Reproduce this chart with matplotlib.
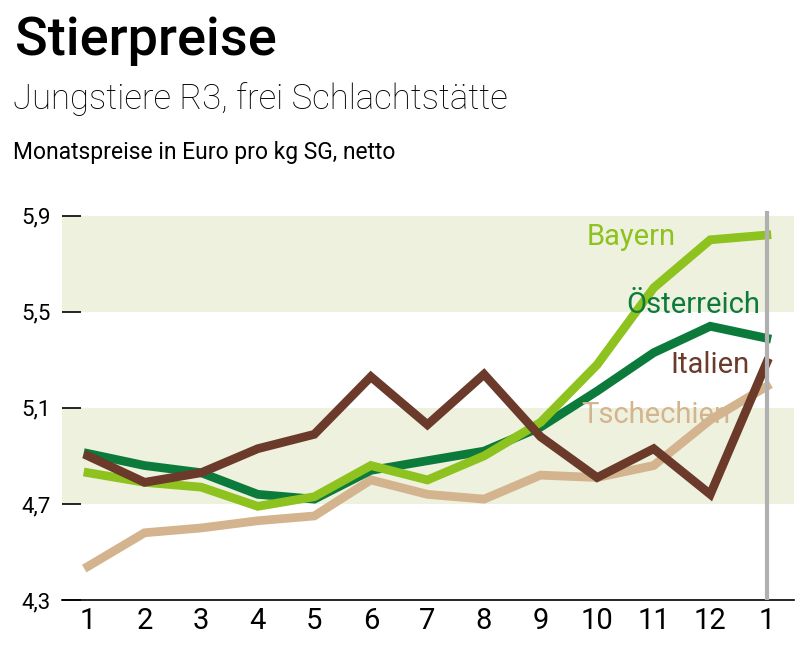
import matplotlib
matplotlib.use("Agg")
import matplotlib.pyplot as plt

months = ["1", "2", "3", "4", "5", "6", "7", "8", "9", "10", "11", "12", "1"]
bayern = [4.83, 4.79, 4.77, 4.69, 4.73, 4.86, 4.80, 4.90, 5.04, 5.28, 5.60, 5.80, 5.82]
oesterreich = [4.91, 4.86, 4.83, 4.74, 4.72, 4.84, 4.88, 4.92, 5.02, 5.17, 5.33, 5.44, 5.39]
italien = [4.90, 4.79, 4.83, 4.93, 4.99, 5.23, 5.03, 5.24, 4.98, 4.81, 4.93, 4.74, 5.29]
tschechien = [4.44, 4.58, 4.60, 4.63, 4.65, 4.80, 4.74, 4.72, 4.82, 4.81, 4.86, 5.05, 5.19]
yticks = [4.3, 4.7, 5.1, 5.5, 5.9]
ylabels = ["4,3", "4,7", "5,1", "5,5", "5,9"]

plt.rcParams["font.family"] = ["Roboto", "DejaVu Sans"]

c_bay = "#8dc21f"
c_oes = "#0b7a3b"
c_ita = "#6b3a2a"
c_tsc = "#d4b48e"
c_band = "#edf1dd"

fig = plt.figure(figsize=(8.11, 6.62), dpi=100)
ax = fig.add_axes([62 / 811, 62 / 662, (794 - 62) / 811, (600 - 211) / 662])

x = list(range(1, len(months) + 1))
ax.axhspan(4.7, 5.1, color=c_band, lw=0, zorder=0)
ax.axhspan(5.5, 5.9, color=c_band, lw=0, zorder=0)

lw = 6.3
ax.plot(x, tschechien, color=c_tsc, lw=lw, solid_joinstyle="miter", zorder=2)
ax.plot(x, oesterreich, color=c_oes, lw=lw, solid_joinstyle="miter", zorder=3)
ax.plot(x, bayern, color=c_bay, lw=lw, solid_joinstyle="miter", zorder=4)
ax.plot(x, italien, color=c_ita, lw=lw, solid_joinstyle="miter", zorder=5)
ax.axvline(13, ymin=0, ymax=1, color="#b0b0b0", lw=3, zorder=6)

ax.text(10.6, 5.81, "Bayern", color=c_bay, fontsize=21, ha="center", va="center", zorder=7)
ax.text(12.89, 5.53, "Österreich", color=c_oes, fontsize=21, ha="right", va="center", zorder=7)
ax.text(12.70, 5.28, "Italien", color=c_ita, fontsize=21, ha="right", va="center", zorder=7)
ax.text(12.35, 5.07, "Tschechien", color=c_tsc, fontsize=21, ha="right", va="center", zorder=7)

ax.set_xlim(0.54, 13.48)
ax.set_ylim(4.3, 5.92)
ax.set_xticks(x)
ax.set_xticklabels(months, fontsize=21)
ax.set_yticks(yticks)
ax.set_yticklabels(ylabels, fontsize=16)
ax.tick_params(axis="x", length=0, pad=5)
ax.tick_params(axis="y", direction="in", length=14, width=1.2, pad=8)
for s in ["top", "right", "left"]:
    ax.spines[s].set_visible(False)
ax.spines["bottom"].set_linewidth(1.2)

fig.text(15 / 811, 1 - 55 / 662, "Stierpreise", fontsize=39, fontweight="medium", va="baseline")
fig.text(13 / 811, 1 - 109 / 662, "Jungstiere R3, frei Schlachtstätte", fontsize=25, fontweight="light", va="baseline")
fig.text(13 / 811, 1 - 159 / 662, "Monatspreise in Euro pro kg SG, netto", fontsize=16.5, va="baseline")

fig.savefig("out.png", dpi=100)
